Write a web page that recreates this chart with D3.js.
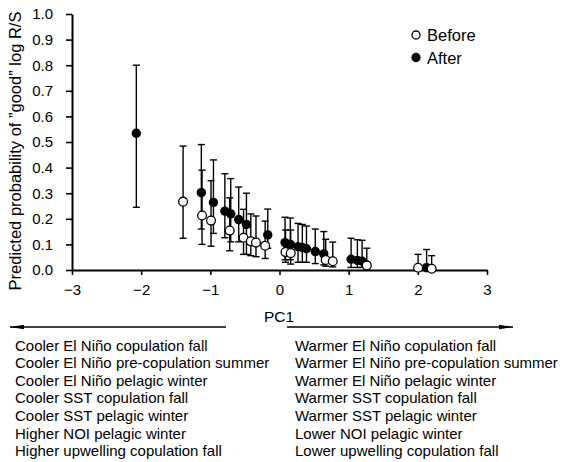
<!DOCTYPE html>
<html>
<head>
<meta charset="utf-8">
<script src="https://cdn.jsdelivr.net/npm/d3@7"></script>
<style>
  html, body { margin: 0; padding: 0; background: #ffffff; }
  svg { display: block; }
  text { font-family: "Liberation Sans", Arial, Helvetica, sans-serif; fill: #000; }
</style>
</head>
<body>
<svg id="chart" width="563" height="462"></svg>
<script>
// ---- data ----
const afterX  = [-2.07, -1.13, -0.955, -0.79, -0.705, -0.59, -0.478, -0.17, 0.08, 0.156, 0.268, 0.33, 0.39, 0.517, 0.64, 1.035, 1.126, 1.194, 2.127];
const afterY  = [0.534, 0.302, 0.264, 0.230, 0.219, 0.197, 0.178, 0.137, 0.107, 0.100, 0.091, 0.088, 0.083, 0.072, 0.063, 0.042, 0.037, 0.034, 0.009];
const afterLo = [0.245, 0.160, 0.143, 0.126, 0.110, 0.110, 0.061, 0.085, 0.040, 0.040, 0.030, 0.030, 0.030, 0.025, 0.020, 0.010, 0.010, 0.010, 0.000];
const afterHi = [0.800, 0.490, 0.430, 0.376, 0.357, 0.324, 0.300, 0.238, 0.206, 0.203, 0.182, 0.178, 0.172, 0.160, 0.150, 0.124, 0.118, 0.116, 0.080];

const beforeX  = [-1.394, -1.12, -0.99, -0.72, -0.52, -0.415, -0.34, -0.207, 0.087, 0.162, 0.668, 0.77, 1.262, 2.004, 2.20];
const beforeY  = [0.267, 0.213, 0.193, 0.154, 0.126, 0.112, 0.107, 0.095, 0.070, 0.066, 0.039, 0.034, 0.018, 0.009, 0.005];
const beforeLo = [0.124, 0.100, 0.093, 0.075, 0.061, 0.056, 0.052, 0.045, 0.030, 0.023, 0.015, 0.012, 0.000, 0.000, 0.000];
const beforeHi = [0.484, 0.390, 0.349, 0.282, 0.237, 0.219, 0.211, 0.191, 0.156, 0.156, 0.120, 0.109, 0.085, 0.061, 0.056];

const xTicks = [-3, -2, -1, 0, 1, 2, 3];
const yTicks = [0.0, 0.1, 0.2, 0.3, 0.4, 0.5, 0.6, 0.7, 0.8, 0.9, 1.0];
const seriesNames = ["Before", "After"];
const leftLabels = [
  "Cooler El Niño copulation fall",
  "Cooler El Niño pre-copulation summer",
  "Cooler El Niño pelagic winter",
  "Cooler SST copulation fall",
  "Cooler SST pelagic winter",
  "Higher NOI pelagic winter",
  "Higher upwelling copulation fall"
];
const rightLabels = [
  "Warmer El Niño copulation fall",
  "Warmer El Niño pre-copulation summer",
  "Warmer El Niño pelagic winter",
  "Warmer SST copulation fall",
  "Warmer SST pelagic winter",
  "Lower NOI pelagic winter",
  "Lower upwelling copulation fall"
];

// ---- layout ----
const svg = d3.select("#chart");
const x = d3.scaleLinear().domain([-3, 3]).range([72, 487]);
const y = d3.scaleLinear().domain([0, 1]).range([270, 14]);

const defs = svg.append("defs");
defs.append("marker").attr("id", "arrowR")
  .attr("viewBox", "0 0 14 6").attr("refX", 14).attr("refY", 3)
  .attr("markerWidth", 14).attr("markerHeight", 6).attr("markerUnits", "userSpaceOnUse")
  .attr("orient", "auto")
  .append("path").attr("d", "M0,0.8 L14,3 L0,5.2 Z").attr("fill", "#000");

// axes
const xAxis = d3.axisBottom(x).tickValues(xTicks).tickSize(5).tickSizeOuter(0).tickPadding(9)
  .tickFormat(d => d < 0 ? "\u2212" + Math.abs(d) : String(d));
const yAxis = d3.axisLeft(y).tickValues(yTicks).tickSize(6).tickSizeOuter(0).tickPadding(13)
  .tickFormat(d3.format(".1f"));

const gx = svg.append("g").attr("transform", "translate(0,270)").call(xAxis);
const gy = svg.append("g").attr("transform", "translate(72,0)").call(yAxis);
[gx, gy].forEach(g => {
  g.selectAll("path.domain").attr("stroke", "#000").attr("stroke-width", 2);
  g.selectAll(".tick line").attr("stroke", "#000").attr("stroke-width", 1.6);
  g.selectAll(".tick text").attr("font-size", 15).attr("fill", "#000")
    .style("font-family", "'Liberation Sans', Arial, Helvetica, sans-serif");
});

// axis titles
svg.append("text").attr("x", 279).attr("y", 322).attr("text-anchor", "middle")
  .attr("font-size", 15.5).text("PC1");
svg.append("text").attr("transform", "translate(21,151) rotate(-90)")
  .attr("text-anchor", "middle").attr("font-size", 16.5)
  .text("Predicted probability of \u201dgood\u201d log R/S");

// error bars + points
const before = beforeX.map((v, i) => ({x: v, y: beforeY[i], lo: beforeLo[i], hi: beforeHi[i]}));
const after = afterX.map((v, i) => ({x: v, y: afterY[i], lo: afterLo[i], hi: afterHi[i]}));
const cap = 3.5;
const bars = svg.append("g").attr("stroke", "#000").attr("stroke-width", 1.4).attr("fill", "none");
[...before, ...after].forEach(d => {
  bars.append("line").attr("x1", x(d.x)).attr("x2", x(d.x)).attr("y1", y(d.lo)).attr("y2", y(d.hi));
  bars.append("line").attr("x1", x(d.x) - cap).attr("x2", x(d.x) + cap).attr("y1", y(d.hi)).attr("y2", y(d.hi));
  bars.append("line").attr("x1", x(d.x) - cap).attr("x2", x(d.x) + cap).attr("y1", y(d.lo)).attr("y2", y(d.lo));
});
svg.append("g").selectAll("circle").data(after).join("circle")
  .attr("cx", d => x(d.x)).attr("cy", d => y(d.y)).attr("r", 4.7).attr("fill", "#000");
svg.append("g").selectAll("circle").data(before).join("circle")
  .attr("cx", d => x(d.x)).attr("cy", d => y(d.y)).attr("r", 4.4)
  .attr("fill", "#fff").attr("stroke", "#000").attr("stroke-width", 1.3);

// legend
const lg = svg.append("g");
seriesNames.forEach((name, i) => {
  const cy = 35 + i * 22.5;
  lg.append("circle").attr("cx", 416).attr("cy", cy).attr("r", 4)
    .attr("fill", i === 0 ? "#fff" : "#000").attr("stroke", "#000").attr("stroke-width", 1.3);
  lg.append("text").attr("x", 427).attr("y", cy + 6).attr("font-size", 16.5).text(name);
});

// arrows
svg.append("line").attr("x1", 226).attr("x2", 10).attr("y1", 327).attr("y2", 327)
  .attr("stroke", "#000").attr("stroke-width", 1.5).attr("marker-end", "url(#arrowR)");
svg.append("line").attr("x1", 287).attr("x2", 513).attr("y1", 327).attr("y2", 327)
  .attr("stroke", "#000").attr("stroke-width", 1.5).attr("marker-end", "url(#arrowR)");

// descriptive labels
svg.append("g").selectAll("text").data(leftLabels).join("text")
  .attr("x", 15).attr("y", (d, i) => 350.5 + i * 17.6).attr("font-size", 15).text(d => d);
svg.append("g").selectAll("text").data(rightLabels).join("text")
  .attr("x", 295).attr("y", (d, i) => 350.5 + i * 17.6).attr("font-size", 15).text(d => d);
</script>
</body>
</html>
